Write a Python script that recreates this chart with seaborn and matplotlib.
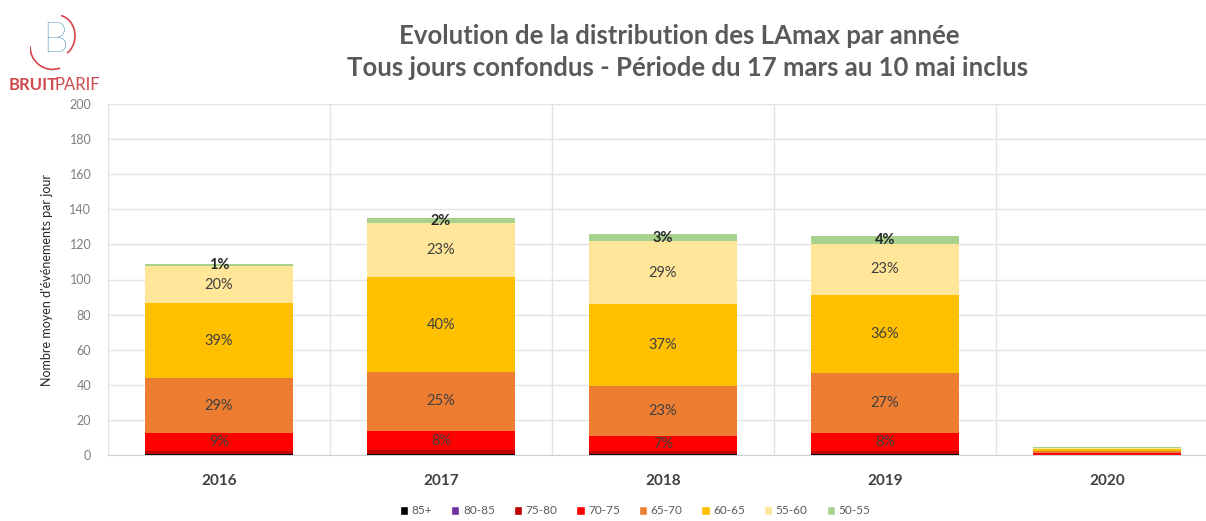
import numpy as np
import pandas as pd
import seaborn as sns
import matplotlib.pyplot as plt
from matplotlib.patches import Patch, Arc


years = ["2016", "2017", "2018", "2019", "2020"]
bands = ["85+", "80-85", "75-80", "70-75", "65-70", "60-65", "55-60", "50-55"]
colors = ["#000000", "#7030A0", "#C00000", "#FF0000", "#ED7D31", "#FFC000", "#FFE699", "#A9D18E"]

# mean number of events per day, one list per LAmax band (same order as years)
v_85 = [0.5, 0.5, 0.3, 0.3, 0.0]
v_80_85 = [0.3, 0.3, 0.2, 0.2, 0.0]
v_75_80 = [1.5, 1.8, 1.5, 1.5, 0.2]
v_70_75 = [10.2, 11.1, 8.8, 10.5, 1.2]
v_65_70 = [31.4, 33.6, 28.5, 34.2, 1.0]
v_60_65 = [42.5, 54.1, 46.7, 44.5, 1.2]
v_55_60 = [21.5, 31.0, 35.9, 29.0, 0.6]
v_50_55 = [1.0, 2.4, 4.0, 4.8, 0.5]

# percentage labels shown on the bars
pct_70_75 = ["9%", "8%", "7%", "8%", ""]
pct_65_70 = ["29%", "25%", "23%", "27%", ""]
pct_60_65 = ["39%", "40%", "37%", "36%", ""]
pct_55_60 = ["20%", "23%", "29%", "23%", ""]
pct_50_55 = ["1%", "2%", "3%", "4%", ""]

values = [v_85, v_80_85, v_75_80, v_70_75, v_65_70, v_60_65, v_55_60, v_50_55]
labels = {"70-75": pct_70_75, "65-70": pct_65_70, "60-65": pct_60_65,
          "55-60": pct_55_60, "50-55": pct_50_55}

rows = []
for band, vals in zip(bands, values):
    for i, v in enumerate(vals):
        rows.append({"year": i, "band": band, "value": v})
df = pd.DataFrame(rows)

sns.set_style("white")
plt.rcParams["font.family"] = ["Lato", "DejaVu Sans"]

fig = plt.figure(figsize=(12.06, 5.21), dpi=100)
ax = fig.add_axes([108 / 1206, 66 / 521, 1110 / 1206, 351 / 521])

sns.histplot(data=df, x="year", hue="band", weights="value", multiple="stack",
             discrete=True, shrink=0.667, hue_order=bands[::-1],
             palette=dict(zip(bands, colors)), edgecolor="none", alpha=1,
             legend=False, ax=ax)

# percent labels at the middle of each segment
cum = np.zeros(len(years))
for band, vals in zip(bands, values):
    vals = np.array(vals)
    if band in labels:
        for i, txt in enumerate(labels[band]):
            if txt:
                bold = band == "50-55"
                ax.text(i, cum[i] + vals[i] / 2, txt, ha="center", va="center",
                        fontsize=10.5, color="#262626" if bold else "#404040",
                        fontweight="bold" if bold else "normal")
    cum += vals

ax.set_xlim(-0.5, 4.5)
ax.set_ylim(0, 200)
ax.set_yticks(range(0, 201, 20))
ax.set_xticks(range(len(years)))
ax.set_xticklabels(years, fontsize=11, color="#404040", fontweight="bold")
ax.set_xticks(np.arange(-0.5, 5, 1), minor=True)
ax.tick_params(axis="y", labelsize=9, colors="#7f7f7f", length=0, pad=12)
ax.tick_params(axis="x", which="both", length=0, pad=14)
ax.grid(axis="y", color="#e3e3e3", lw=1)
ax.grid(axis="x", which="minor", color="#e3e3e3", lw=1)
ax.grid(axis="x", which="major", visible=False)
ax.set_axisbelow(True)
for s in ["top", "right", "left"]:
    ax.spines[s].set_visible(False)
ax.spines["bottom"].set_color("#d0d0d0")
ax.set_xlabel("")
ax.set_ylabel("Nombre moyen d'événements par jour", fontsize=9, color="#262626",
              labelpad=12)

fig.text(0.563, 0.931, "Evolution de la distribution des LAmax par année",
         ha="center", va="center", fontsize=18.5, fontweight="bold", color="#595959")
fig.text(0.570, 0.869, "Tous jours confondus - Période du 17 mars au 10 mai inclus",
         ha="center", va="center", fontsize=18.5, fontweight="bold", color="#595959")

handles = [Patch(facecolor=c, label=b) for b, c in zip(bands, colors)]
fig.legend(handles=handles, loc="center", bbox_to_anchor=(635 / 1206, 10 / 521),
           ncol=8, frameon=False, fontsize=8.5, handlelength=0.7, handleheight=0.7,
           handletextpad=0.3, columnspacing=1.6, labelcolor="#595959")

# logo
lx = fig.add_axes([30 / 1206, 1 - 72 / 521, 50 / 1206, 62 / 521])
lx.set_xlim(-1, 1)
lx.set_ylim(-1.2, 1.2)
lx.axis("off")
lx.text(0, 0, "B", ha="center", va="center", fontsize=30, color="#2c7fa8",
        fontweight="light")
lx.add_patch(Arc((0.1, 0.2), 1.4, 1.6, theta1=-60, theta2=80, color="#d9434b", lw=1.2))
lx.add_patch(Arc((-0.1, -0.2), 1.8, 1.8, theta1=180, theta2=290, color="#d9434b", lw=1.2))
fig.text(9 / 1206, 1 - 85 / 521, "BRUIT", ha="left", va="center", fontsize=12,
         fontweight="bold", color="#cf4a4e")
fig.text(55 / 1206, 1 - 85 / 521, "PARIF", ha="left", va="center", fontsize=12,
         color="#cf4a4e")

fig.savefig("out.png", dpi=100, facecolor="white")
